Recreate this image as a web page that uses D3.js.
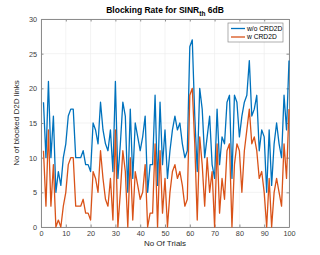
<!DOCTYPE html>
<html>
<head>
<meta charset="utf-8">
<script src="https://cdn.jsdelivr.net/npm/d3@7"></script>
<style>
  body { margin: 0; background: #fff; }
  svg { font-family: "Liberation Sans", Arial, sans-serif; }
</style>
</head>
<body>
<svg id="chart" width="320" height="255"></svg>
<script>
// data: trials 1..100
var trials = d3.range(1, 101);
var withoutCRD2D = [18, 10, 21, 10, 16, 5, 8, 6, 10, 12,
  16, 17, 17, 10, 10, 10, 11, 9, 9, 8,
  15, 14, 12, 18, 14, 12, 11, 14, 8, 21,
  7, 12, 18, 16, 5, 17, 7, 15, 13, 11,
  13, 16, 5, 9, 9, 19, 6, 18, 9, 14,
  7, 11, 14, 16, 14, 15, 12, 10, 11, 26,
  27, 16, 8, 20, 17, 10, 13, 16, 9, 7,
  17, 9, 13, 12, 18, 19, 7, 19, 18, 13,
  16, 18, 19, 24, 16, 17, 19, 11, 14, 13,
  5, 14, 6, 12, 15, 12, 10, 19, 14, 24];
var withCRD2D = [11, 3, 14, 3, 9, 0, 1, 0, 3, 5,
  9, 10, 10, 3, 3, 3, 4, 2, 2, 1,
  8, 7, 5, 11, 7, 4, 3, 7, 1, 14,
  0, 5, 11, 8, 0, 10, 1, 8, 6, 4,
  5, 9, 0, 2, 2, 12, 0, 11, 2, 7,
  0, 5, 8, 9, 7, 8, 6, 3, 4, 19,
  20, 12, 1, 13, 9, 3, 10, 5, 8, 0,
  12, 2, 7, 4, 11, 12, 0, 9, 12, 11,
  5, 11, 14, 17, 12, 13, 11, 7, 8, 5,
  0, 7, 0, 5, 7, 5, 3, 12, 7, 17];
var seriesNames = ["w/o CRD2D", "w CRD2D"];
var xTicks = d3.range(0, 101, 10);
var yTicks = d3.range(0, 31, 5);

var COLORS = ["#0072BD", "#D95319"];
var LEFT = 41, RIGHT = 289, TOP = 19, BOTTOM = 227;

var svg = d3.select("#chart");

var x = d3.scaleLinear().domain([0, 100]).range([LEFT, RIGHT]);
var y = d3.scaleLinear().domain([0, 30]).range([BOTTOM, TOP]);

// grid
var grid = svg.append("g").attr("stroke", "#ebebeb").attr("stroke-width", 0.6);
grid.selectAll(".gx").data(xTicks).enter().append("line")
    .attr("x1", function(d) { return x(d); })
    .attr("x2", function(d) { return x(d); })
    .attr("y1", TOP).attr("y2", BOTTOM);
grid.selectAll(".gy").data(yTicks).enter().append("line")
    .attr("y1", function(d) { return y(d); })
    .attr("y2", function(d) { return y(d); })
    .attr("x1", LEFT).attr("x2", RIGHT);

// axes (MATLAB style, ticks inward, boxed)
function styleAxis(g) {
  g.select(".domain").attr("stroke", "#8c8c8c");
  g.selectAll(".tick line").attr("stroke", "#8c8c8c");
  g.selectAll(".tick text").attr("fill", "#404040").attr("font-size", 7.3);
}
svg.append("g")
    .attr("transform", "translate(0," + BOTTOM + ")")
    .call(d3.axisBottom(x).tickValues(xTicks).tickSize(-2.5).tickSizeOuter(0).tickPadding(4))
    .call(styleAxis);
svg.append("g")
    .attr("transform", "translate(0," + TOP + ")")
    .call(d3.axisTop(x).tickValues(xTicks).tickSize(-2.5).tickSizeOuter(0).tickFormat(""))
    .call(styleAxis);
svg.append("g")
    .attr("transform", "translate(" + LEFT + ",0)")
    .call(d3.axisLeft(y).tickValues(yTicks).tickSize(-2.5).tickSizeOuter(0).tickPadding(4))
    .call(styleAxis);
svg.append("g")
    .attr("transform", "translate(" + RIGHT + ",0)")
    .call(d3.axisRight(y).tickValues(yTicks).tickSize(-2.5).tickSizeOuter(0).tickFormat(""))
    .call(styleAxis);

// lines
var line = d3.line()
    .x(function(d, i) { return x(trials[i]); })
    .y(function(d) { return y(d); });

[withoutCRD2D, withCRD2D].forEach(function(s, i) {
  svg.append("path")
      .datum(s)
      .attr("fill", "none")
      .attr("stroke", COLORS[i])
      .attr("stroke-width", 1.3)
      .attr("stroke-linejoin", "round")
      .attr("d", line);
});

// title
var title = svg.append("text")
    .attr("x", (LEFT + RIGHT) / 2)
    .attr("y", 13)
    .attr("text-anchor", "middle")
    .attr("font-size", 8.5)
    .attr("font-weight", "bold")
    .attr("fill", "#000");
title.append("tspan").text("Blocking Rate for SINR");
title.append("tspan").attr("font-size", 6.5).attr("dy", 2.5).text("th");
title.append("tspan").attr("dy", -2.5).text(" 6dB");

// axis labels
svg.append("text")
    .attr("x", (LEFT + RIGHT) / 2)
    .attr("y", 246)
    .attr("text-anchor", "middle")
    .attr("font-size", 8)
    .attr("fill", "#262626")
    .text("No Of Trials");
svg.append("text")
    .attr("transform", "translate(19," + (TOP + BOTTOM) / 2 + ") rotate(-90)")
    .attr("text-anchor", "middle")
    .attr("font-size", 8)
    .attr("fill", "#262626")
    .text("No of blocked D2D links");

// legend
var lg = svg.append("g").attr("transform", "translate(228,23)");
lg.append("rect")
    .attr("width", 55).attr("height", 19)
    .attr("fill", "#fff")
    .attr("stroke", "#8c8c8c")
    .attr("stroke-width", 0.7);
seriesNames.forEach(function(name, i) {
  var row = lg.append("g").attr("transform", "translate(0," + (5.5 + i * 8.5) + ")");
  row.append("line")
      .attr("x1", 3).attr("x2", 17)
      .attr("stroke", COLORS[i]).attr("stroke-width", 1.3);
  row.append("text")
      .attr("x", 19).attr("dy", "0.35em")
      .attr("font-size", 6.7)
      .attr("fill", "#000")
      .text(name);
});
</script>
</body>
</html>
